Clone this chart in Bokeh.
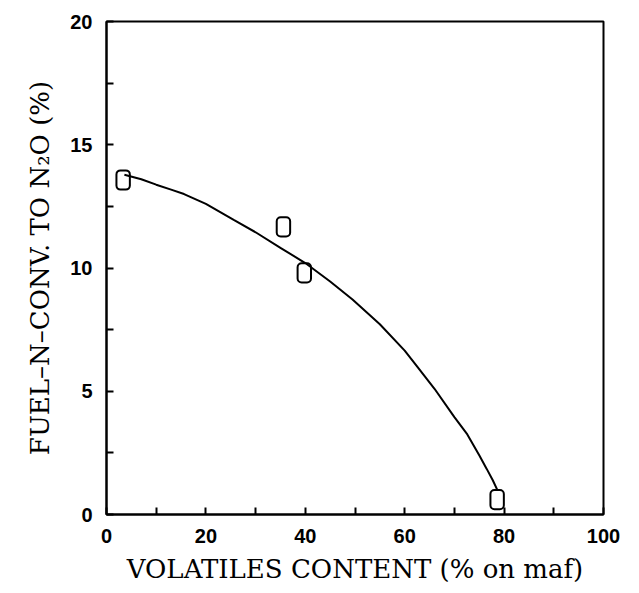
from bokeh.plotting import figure
from bokeh.models import Range1d, FixedTicker, ColumnDataSource
from bokeh.embed import file_html
from bokeh.resources import INLINE

# measured points
pt_x = [3.35, 35.6, 39.8, 78.6]
pt_y = [13.57, 11.67, 9.8, 0.6]

# fitted curve
curve_x = [3.6, 7, 10, 13, 15.6, 20, 25.6, 30, 35, 40, 45, 49.5, 55, 60, 62.6, 66, 70, 72.6, 75, 76.5, 77.7, 78.7]
curve_y = [13.78, 13.6, 13.38, 13.18, 13.0, 12.6, 11.95, 11.45, 10.82, 10.2, 9.45, 8.72, 7.72, 6.65, 5.98, 5.1, 3.95, 3.25, 2.4, 1.85, 1.4, 0.97]

x_major = [0, 20, 40, 60, 80, 100]
x_minor = [10, 30, 50, 70, 90]
y_major = [0, 5, 10, 15, 20]
y_minor = [2.5, 7.5, 12.5, 17.5]

x_label = "VOLATILES CONTENT (% on maf)"
y_label = "FUEL\u2013N\u2013CONV. TO N\u2082O (%)"

p = figure(width=639, height=593, output_backend="svg", toolbar_location=None,
           x_range=Range1d(0, 100), y_range=Range1d(0, 20),
           min_border_left=106, min_border_right=36, min_border_top=21, min_border_bottom=79)
p.background_fill_color = "white"
p.border_fill_color = "white"
p.grid.visible = False
p.outline_line_color = "black"
p.outline_line_width = 2

mw, mh = 2.7, 0.78
src = ColumnDataSource(dict(
    left=[v - mw / 2 for v in pt_x], right=[v + mw / 2 for v in pt_x],
    bottom=[v - mh / 2 for v in pt_y], top=[v + mh / 2 for v in pt_y]))

p.line(curve_x, curve_y, line_color="black", line_width=2)
p.quad(left="left", right="right", bottom="bottom", top="top", source=src,
       fill_color=None, line_color="black", line_width=2, border_radius=4)

for ax in (p.xaxis[0], p.yaxis[0]):
    ax.axis_line_width = 2
    ax.axis_line_color = "black"
    ax.major_tick_in = 7
    ax.major_tick_out = 0
    ax.minor_tick_in = 7
    ax.minor_tick_out = 0
    ax.major_tick_line_width = 2
    ax.minor_tick_line_width = 2
    ax.major_label_text_font = "Liberation Sans"
    ax.major_label_text_font_style = "bold"
    ax.major_label_text_font_size = "20px"
    ax.major_label_text_color = "black"
    ax.axis_label_text_font = "DejaVu Serif"
    ax.axis_label_text_font_style = "normal"
    ax.axis_label_text_color = "black"

p.xaxis.axis_label_text_font_size = "26px"
p.yaxis.axis_label_text_font_size = "26px"
p.xaxis.ticker = FixedTicker(ticks=x_major, minor_ticks=x_minor)
p.yaxis.ticker = FixedTicker(ticks=y_major, minor_ticks=y_minor)
p.xaxis.axis_label = x_label
p.yaxis.axis_label = y_label
p.xaxis.major_label_standoff = 14
p.yaxis.major_label_standoff = 14
p.xaxis.axis_label_standoff = 8
p.yaxis.axis_label_standoff = 12

open("out.html", "w").write(file_html(p, INLINE))
